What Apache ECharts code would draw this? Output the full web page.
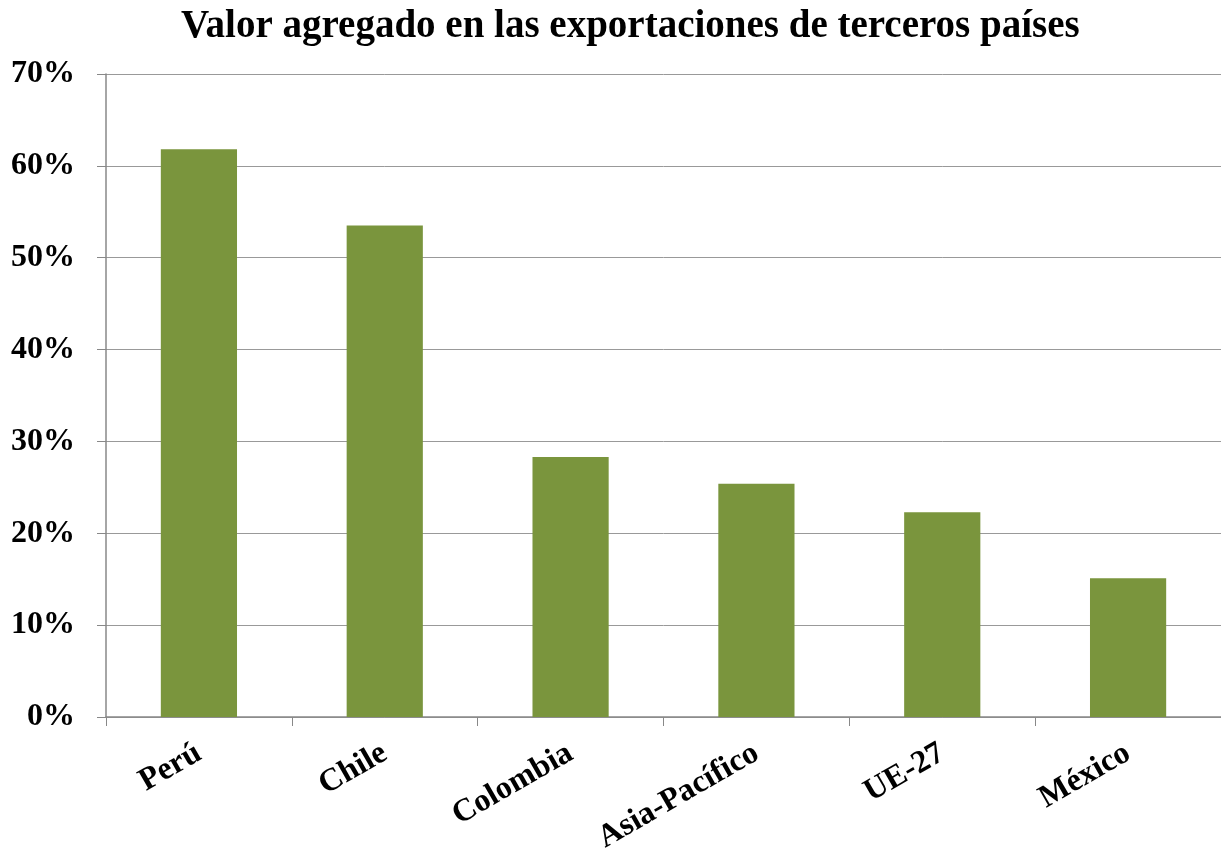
<!DOCTYPE html>
<html>
<head>
<meta charset="utf-8">
<script src="https://cdn.jsdelivr.net/npm/echarts@6/dist/echarts.min.js"></script>
<style>
  html, body { margin: 0; padding: 0; background: #fff; }
  #chart { width: 1221px; height: 858px; }
</style>
</head>
<body>
<div id="chart"></div>
<script>
const categories = ['Perú', 'Chile', 'Colombia', 'Asia-Pacífico', 'UE-27', 'México']
const values = [61.8, 53.5, 28.3, 25.4, 22.3, 15.1]
const yTicks = [0, 10, 20, 30, 40, 50, 60, 70]

const FONT = '"Liberation Serif", "DejaVu Serif", serif'
const chart = echarts.init(document.getElementById('chart'), null, { renderer: 'canvas' })

chart.setOption({
  backgroundColor: '#fff',
  animation: false,
  title: {
    text: 'Valor agregado en las exportaciones de terceros países',
    left: 176,
    top: 2,
    textStyle: { fontFamily: FONT, fontWeight: 'bold', fontSize: 39, color: '#000' },
  },
  grid: { left: 106, right: 0, top: 74, bottom: 141, containLabel: false },
  xAxis: {
    type: 'category',
    data: categories,
    axisLine: { lineStyle: { color: '#888', width: 1.5 } },
    axisTick: { show: true, length: 9, lineStyle: { color: '#888' } },
    axisLabel: {
      rotate: 30,
      margin: 34,
      fontFamily: FONT,
      fontWeight: 'bold',
      fontSize: 32,
      color: '#000',
    },
  },
  yAxis: {
    type: 'value',
    min: yTicks[0],
    max: yTicks[yTicks.length - 1],
    interval: 10,
    axisLine: { show: true, lineStyle: { color: '#888', width: 1.5 } },
    axisTick: { show: true, length: 9, lineStyle: { color: '#888' } },
    splitLine: { lineStyle: { color: '#999', width: 1 } },
    axisLabel: {
      formatter: (v) => v + '%',
      margin: 31,
      fontFamily: FONT,
      fontWeight: 'bold',
      fontSize: 32,
      color: '#000',
    },
  },
  series: [
    {
      type: 'bar',
      data: values,
      barWidth: '41%',
      itemStyle: { color: '#7A953D' },
    },
  ],
})
</script>
</body>
</html>
